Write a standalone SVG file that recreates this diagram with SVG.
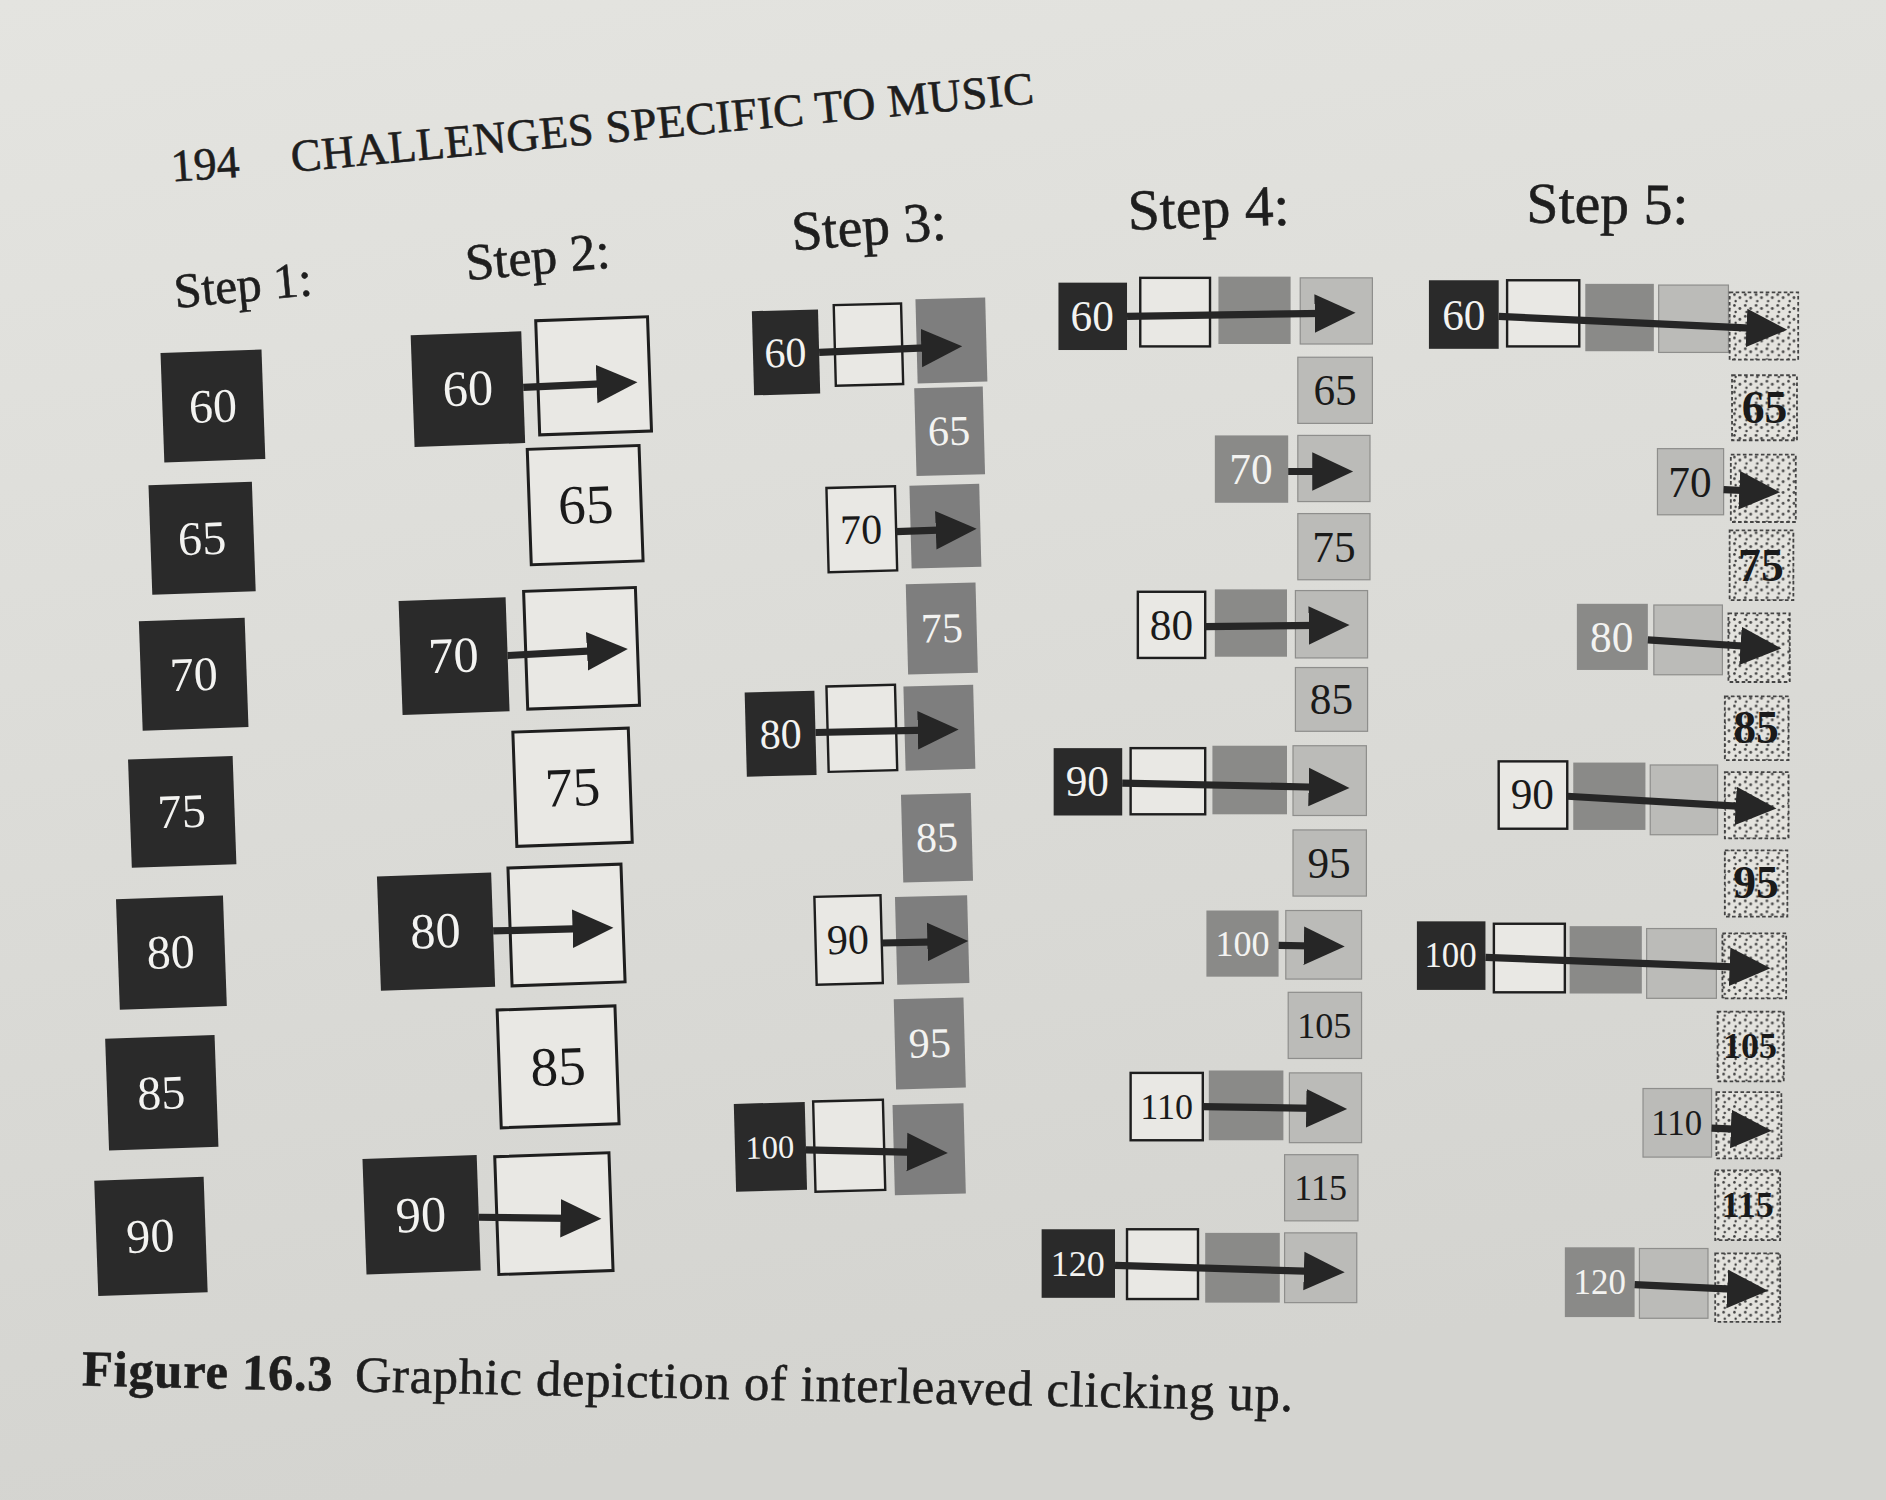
<svg xmlns="http://www.w3.org/2000/svg" width="1886" height="1500" viewBox="0 0 1886 1500">
<defs>
<linearGradient id="paper" x1="0" y1="0" x2="0.2" y2="1">
<stop offset="0" stop-color="#e4e4e0"/>
<stop offset="1" stop-color="#d4d4d0"/>
</linearGradient>
<pattern id="dots" width="9" height="9" patternUnits="userSpaceOnUse">
<rect width="9" height="9" fill="#e4e3de"/>
<circle cx="2" cy="2" r="1.1" fill="#3e3e3e"/>
<circle cx="6.5" cy="4.5" r="1.2" fill="#4a4a4a"/>
<circle cx="3" cy="7.3" r="1" fill="#3e3e3e"/>
</pattern>
<marker id="ah" markerUnits="userSpaceOnUse" markerWidth="36" markerHeight="34" refX="8" refY="17" orient="auto">
<path d="M0,1 L34,17 L0,33 Z" fill="#262626"/>
</marker>
</defs>
<style>
text{font-family:"Liberation Serif","DejaVu Serif",serif}
.blk{fill:#2a2a2a}
.wht{fill:#e9e8e4;stroke:#1e1e1e;stroke-width:2.5}
.wht2{fill:#e9e8e4;stroke:#1e1e1e;stroke-width:2}
.g3{fill:#7e7e7e}
.mid{fill:#8a8a88}
.lt{fill:#bbbbb8;stroke:#8e8e8c;stroke-width:1}
.dot{fill:url(#dots);stroke:#444;stroke-width:1.5;stroke-dasharray:3 2}
.tw{fill:#f3f3f1;text-anchor:middle}
.tb{fill:#1a1a1a;text-anchor:middle}
.bold{font-weight:bold}
.hd{fill:#1e1e1e;stroke:#1e1e1e;stroke-width:0.5}
.arr{stroke:#262626;stroke-width:6;fill:none;marker-end:url(#ah)}
</style>
<rect width="1886" height="1500" fill="url(#paper)"/>
<g transform="scale(1.2028)">
<g id="header">
<text class="hd" x="143" y="151" font-size="38" transform="rotate(-4 143 151)">194</text>
<text class="hd" x="243" y="143" font-size="38" textLength="620" lengthAdjust="spacing" transform="rotate(-5.3 243 143)">CHALLENGES SPECIFIC TO MUSIC</text>
</g>
<g id="labels">
<text class="hd" x="146" y="256" font-size="41" transform="rotate(-5.4 146 256)">Step 1:</text>
<text class="hd" x="388" y="233" font-size="43" transform="rotate(-5 388 233)">Step 2:</text>
<text class="hd" x="659" y="208" font-size="46" transform="rotate(-4 659 208)">Step 3:</text>
<text class="hd" x="938" y="191" font-size="48" transform="rotate(-1.8 938 191)">Step 4:</text>
<text class="hd" x="1269" y="185" font-size="48" transform="rotate(0.5 1269 185)">Step 5:</text>
</g>

<g id="step1" font-size="40">
<g id="s1-60" transform="rotate(-2 177 337)"><rect class="blk" x="135" y="292" width="84" height="91"/><text class="tw" x="177" y="351">60</text></g>
<g id="s1-65" transform="rotate(-2 168 447)"><rect class="blk" x="125" y="402" width="86" height="91"/><text class="tw" x="168" y="461">65</text></g>
<g id="s1-70" transform="rotate(-2 161 560)"><rect class="blk" x="117" y="515" width="88" height="91"/><text class="tw" x="161" y="574">70</text></g>
<g id="s1-75" transform="rotate(-2 151 675)"><rect class="blk" x="108" y="630" width="87" height="90"/><text class="tw" x="151" y="688">75</text></g>
<g id="s1-80" transform="rotate(-2 142 792)"><rect class="blk" x="98" y="746" width="89" height="92"/><text class="tw" x="142" y="805">80</text></g>
<g id="s1-85" transform="rotate(-2 134 908)"><rect class="blk" x="89" y="862" width="91" height="93"/><text class="tw" x="134" y="922">85</text></g>
<g id="s1-90" transform="rotate(-2 125 1028)"><rect class="blk" x="80" y="980" width="91" height="96"/><text class="tw" x="125" y="1041">90</text></g>
</g>

<g id="step2">
<g id="s2-60" transform="rotate(-2 389 323)"><rect class="blk" x="343" y="277" width="92" height="93"/><text class="tw" x="389" y="337" font-size="42">60</text></g>
<g id="s2-60b" transform="rotate(-2 493 312)"><rect class="wht" x="447" y="265" width="93" height="95"/></g>
<g id="s2-65" transform="rotate(-2 486 420)"><rect class="wht" x="440" y="372" width="93" height="96"/><text class="tb" x="487" y="435" font-size="46">65</text></g>
<g id="s2-70" transform="rotate(-2 377 545)"><rect class="blk" x="333" y="498" width="89" height="95"/><text class="tw" x="377" y="559" font-size="42">70</text></g>
<g id="s2-70b" transform="rotate(-2 483 539)"><rect class="wht" x="437" y="490" width="93" height="98"/></g>
<g id="s2-75" transform="rotate(-2 476 654)"><rect class="wht" x="428" y="607" width="96" height="95"/><text class="tb" x="476" y="670" font-size="46">75</text></g>
<g id="s2-80" transform="rotate(-2 362 774)"><rect class="blk" x="315" y="727" width="95" height="95"/><text class="tw" x="362" y="788" font-size="42">80</text></g>
<g id="s2-80b" transform="rotate(-2 471 769)"><rect class="wht" x="424" y="720" width="94" height="98"/></g>
<g id="s2-85" transform="rotate(-2 464 887)"><rect class="wht" x="415" y="838" width="98" height="98"/><text class="tb" x="464" y="902" font-size="46">85</text></g>
<g id="s2-90" transform="rotate(-2 350 1010)"><rect class="blk" x="303" y="962" width="95" height="96"/><text class="tw" x="350" y="1024" font-size="42">90</text></g>
<g id="s2-90b" transform="rotate(-2 460 1009)"><rect class="wht" x="413" y="960" width="95" height="98"/></g>
</g>

<g id="step3" font-size="35">
<g id="s3-60" transform="rotate(-1.5 653 293)"><rect class="blk" x="626" y="258" width="55" height="70"/><text class="tw" x="653" y="305">60</text></g>
<g id="s3-60b" transform="rotate(-1.5 722 286)"><rect class="wht2" x="694" y="253" width="56" height="67"/></g>
<g id="s3-60c" transform="rotate(-1.5 791 283)"><rect class="g3" x="762" y="248" width="58" height="70"/></g>
<g id="s3-65" transform="rotate(-1.5 789 358)"><rect class="g3" x="761" y="322" width="57" height="73"/><text class="tw" x="789" y="370">65</text></g>
<g id="s3-70" transform="rotate(-1.5 716 440)"><rect class="wht2" x="688" y="405" width="57" height="70"/><text class="tb" x="716" y="452">70</text></g>
<g id="s3-70b" transform="rotate(-1.5 786 437)"><rect class="g3" x="757" y="403" width="58" height="69"/></g>
<g id="s3-75" transform="rotate(-1.5 783 522)"><rect class="g3" x="754" y="485" width="58" height="75"/><text class="tw" x="783" y="534">75</text></g>
<g id="s3-80" transform="rotate(-1.5 649 610)"><rect class="blk" x="620" y="575" width="58" height="70"/><text class="tw" x="649" y="622">80</text></g>
<g id="s3-80b" transform="rotate(-1.5 716 605)"><rect class="wht2" x="688" y="570" width="57" height="71"/></g>
<g id="s3-80c" transform="rotate(-1.5 781 605)"><rect class="g3" x="752" y="570" width="58" height="70"/></g>
<g id="s3-85" transform="rotate(-1.5 779 696)"><rect class="g3" x="750" y="660" width="58" height="73"/><text class="tw" x="779" y="708">85</text></g>
<g id="s3-90" transform="rotate(-1.5 705 781)"><rect class="wht2" x="678" y="745" width="55" height="73"/><text class="tb" x="705" y="793">90</text></g>
<g id="s3-90b" transform="rotate(-1.5 775 781)"><rect class="g3" x="745" y="745" width="60" height="73"/></g>
<g id="s3-95" transform="rotate(-1.5 773 867)"><rect class="g3" x="744" y="830" width="58" height="75"/><text class="tw" x="773" y="879">95</text></g>
<g id="s3-100" transform="rotate(-1.5 640 953)"><rect class="blk" x="611" y="917" width="59" height="73"/><text class="tw" x="640" y="963" font-size="27">100</text></g>
<g id="s3-100b" transform="rotate(-1.5 706 952)"><rect class="wht2" x="677" y="915" width="58" height="75"/></g>
<g id="s3-100c" transform="rotate(-1.5 772 955)"><rect class="g3" x="743" y="918" width="59" height="75"/></g>
</g>

<g id="step4" font-size="36">
<g id="s4-60"><rect class="blk" x="880" y="235" width="57" height="56"/><text class="tw" x="908" y="275">60</text></g>
<g id="s4-60b"><rect class="wht2" x="948" y="231" width="58" height="57"/></g>
<g id="s4-60c"><rect class="mid" x="1013" y="230" width="60" height="56"/></g>
<g id="s4-60d"><rect class="lt" x="1081" y="231" width="60" height="55"/></g>
<g id="s4-65"><rect class="lt" x="1079" y="297" width="62" height="55"/><text class="tb" x="1110" y="337">65</text></g>
<g id="s4-70"><rect class="mid" x="1010" y="362" width="61" height="56"/><text class="tw" x="1040" y="402">70</text></g>
<g id="s4-70b"><rect class="lt" x="1079" y="362" width="60" height="55"/></g>
<g id="s4-75"><rect class="lt" x="1079" y="427" width="60" height="55"/><text class="tb" x="1109" y="467">75</text></g>
<g id="s4-80"><rect class="wht2" x="946" y="492" width="56" height="55"/><text class="tb" x="974" y="532">80</text></g>
<g id="s4-80b"><rect class="mid" x="1010" y="490" width="60" height="56"/></g>
<g id="s4-80c"><rect class="lt" x="1077" y="491" width="60" height="56"/></g>
<g id="s4-85"><rect class="lt" x="1077" y="555" width="60" height="53"/><text class="tb" x="1107" y="594">85</text></g>
<g id="s4-90"><rect class="blk" x="876" y="622" width="57" height="56"/><text class="tw" x="904" y="662">90</text></g>
<g id="s4-90b"><rect class="wht2" x="940" y="622" width="62" height="55"/></g>
<g id="s4-90c"><rect class="mid" x="1008" y="620" width="62" height="57"/></g>
<g id="s4-90d"><rect class="lt" x="1075" y="620" width="61" height="58"/></g>
<g id="s4-95"><rect class="lt" x="1075" y="690" width="61" height="55"/><text class="tb" x="1105" y="730">95</text></g>
<g id="s4-100"><rect class="mid" x="1003" y="757" width="60" height="55"/><text class="tw" x="1033" y="795" font-size="30">100</text></g>
<g id="s4-100b"><rect class="lt" x="1069" y="757" width="63" height="57"/></g>
<g id="s4-105"><rect class="lt" x="1071" y="825" width="61" height="55"/><text class="tb" x="1101" y="863" font-size="30">105</text></g>
<g id="s4-110"><rect class="wht2" x="940" y="892" width="60" height="56"/><text class="tb" x="970" y="930" font-size="30">110</text></g>
<g id="s4-110b"><rect class="mid" x="1005" y="890" width="62" height="58"/></g>
<g id="s4-110c"><rect class="lt" x="1072" y="892" width="60" height="58"/></g>
<g id="s4-115"><rect class="lt" x="1068" y="960" width="61" height="55"/><text class="tb" x="1098" y="998" font-size="30">115</text></g>
<g id="s4-120"><rect class="blk" x="866" y="1022" width="61" height="57"/><text class="tw" x="896" y="1061" font-size="30">120</text></g>
<g id="s4-120b"><rect class="wht2" x="937" y="1022" width="59" height="58"/></g>
<g id="s4-120c"><rect class="mid" x="1002" y="1025" width="62" height="58"/></g>
<g id="s4-120d"><rect class="lt" x="1068" y="1025" width="60" height="58"/></g>
</g>

<g id="step5" font-size="36">
<g id="s5-60"><rect class="blk" x="1188" y="233" width="58" height="57"/><text class="tw" x="1217" y="274">60</text></g>
<g id="s5-60b"><rect class="wht2" x="1253" y="233" width="60" height="55"/></g>
<g id="s5-60c"><rect class="mid" x="1318" y="236" width="57" height="56"/></g>
<g id="s5-60d"><rect class="lt" x="1379" y="237" width="58" height="56"/></g>
<g id="s5-60e"><rect class="dot" x="1438" y="243" width="57" height="56"/></g>
<g id="s5-65"><rect class="dot" x="1440" y="312" width="54" height="54"/><text class="tb bold" x="1467" y="352" font-size="38">65</text></g>
<g id="s5-70"><rect class="lt" x="1378" y="373" width="55" height="55"/><text class="tb" x="1405" y="413">70</text></g>
<g id="s5-70b"><rect class="dot" x="1439" y="378" width="54" height="56"/></g>
<g id="s5-75"><rect class="dot" x="1438" y="441" width="53" height="58"/><text class="tb bold" x="1464" y="483" font-size="38">75</text></g>
<g id="s5-80"><rect class="mid" x="1311" y="502" width="59" height="55"/><text class="tw" x="1340" y="542">80</text></g>
<g id="s5-80b"><rect class="lt" x="1375" y="503" width="57" height="58"/></g>
<g id="s5-80c"><rect class="dot" x="1437" y="510" width="51" height="57"/></g>
<g id="s5-85"><rect class="dot" x="1434" y="579" width="53" height="53"/><text class="tb bold" x="1460" y="618" font-size="38">85</text></g>
<g id="s5-90"><rect class="wht2" x="1246" y="633" width="57" height="56"/><text class="tb" x="1274" y="673">90</text></g>
<g id="s5-90b"><rect class="mid" x="1308" y="634" width="60" height="56"/></g>
<g id="s5-90c"><rect class="lt" x="1372" y="636" width="56" height="58"/></g>
<g id="s5-90d"><rect class="dot" x="1434" y="642" width="53" height="55"/></g>
<g id="s5-95"><rect class="dot" x="1434" y="707" width="52" height="55"/><text class="tb bold" x="1460" y="747" font-size="38">95</text></g>
<g id="s5-100"><rect class="blk" x="1178" y="766" width="57" height="57"/><text class="tw" x="1206" y="804" font-size="29">100</text></g>
<g id="s5-100b"><rect class="wht2" x="1242" y="768" width="59" height="57"/></g>
<g id="s5-100c"><rect class="mid" x="1305" y="770" width="60" height="56"/></g>
<g id="s5-100d"><rect class="lt" x="1369" y="772" width="58" height="58"/></g>
<g id="s5-100e"><rect class="dot" x="1432" y="776" width="53" height="54"/></g>
<g id="s5-105"><rect class="dot" x="1428" y="841" width="55" height="58"/><text class="tb bold" x="1455" y="880" font-size="30">105</text></g>
<g id="s5-110"><rect class="lt" x="1366" y="905" width="57" height="57"/><text class="tb" x="1394" y="944" font-size="29">110</text></g>
<g id="s5-110b"><rect class="dot" x="1427" y="908" width="54" height="55"/></g>
<g id="s5-115"><rect class="dot" x="1426" y="973" width="54" height="58"/><text class="tb bold" x="1453" y="1012" font-size="30">115</text></g>
<g id="s5-120"><rect class="mid" x="1301" y="1037" width="58" height="58"/><text class="tw" x="1330" y="1076" font-size="29">120</text></g>
<g id="s5-120b"><rect class="lt" x="1363" y="1038" width="57" height="58"/></g>
<g id="s5-120c"><rect class="dot" x="1426" y="1042" width="54" height="57"/></g>
</g>

<g id="connectors">
<path class="arr" d="M435,322 L504,319"/>
<path class="arr" d="M422,545 L496,541"/>
<path class="arr" d="M410,774 L484,772"/>
<path class="arr" d="M398,1012 L474,1013"/>
<path class="arr" d="M681,293 L774,289"/>
<path class="arr" d="M745,442 L786,440.5"/>
<path class="arr" d="M678,609 L771,607"/>
<path class="arr" d="M733,784 L779,783"/>
<path class="arr" d="M670,956 L762,958"/>
<path class="arr" d="M937,263 L1101,260.5"/>
<path class="arr" d="M1071,392 L1099,392"/>
<path class="arr" d="M1002,521 L1096,520"/>
<path class="arr" d="M933,651 L1096,654.5"/>
<path class="arr" d="M1063,786 L1092,786.5"/>
<path class="arr" d="M1000,920 L1094,921.5"/>
<path class="arr" d="M927,1052 L1092,1057"/>
<path class="arr" d="M1246,263 L1460,273"/>
<path class="arr" d="M1433,407 L1454,408"/>
<path class="arr" d="M1370,532 L1455,537.5"/>
<path class="arr" d="M1303,662 L1451,670.6"/>
<path class="arr" d="M1235,796 L1446,804"/>
<path class="arr" d="M1423,938 L1447,939"/>
<path class="arr" d="M1359,1068 L1444,1072"/>
</g>

<g id="caption">
<text class="hd" x="68" y="1152" font-size="42" textLength="1007" lengthAdjust="spacing" transform="rotate(1.2 68 1152)"><tspan font-weight="bold">Figure 16.3</tspan><tspan dx="18">Graphic depiction of interleaved clicking up.</tspan></text>
</g>
</g>
</svg>
